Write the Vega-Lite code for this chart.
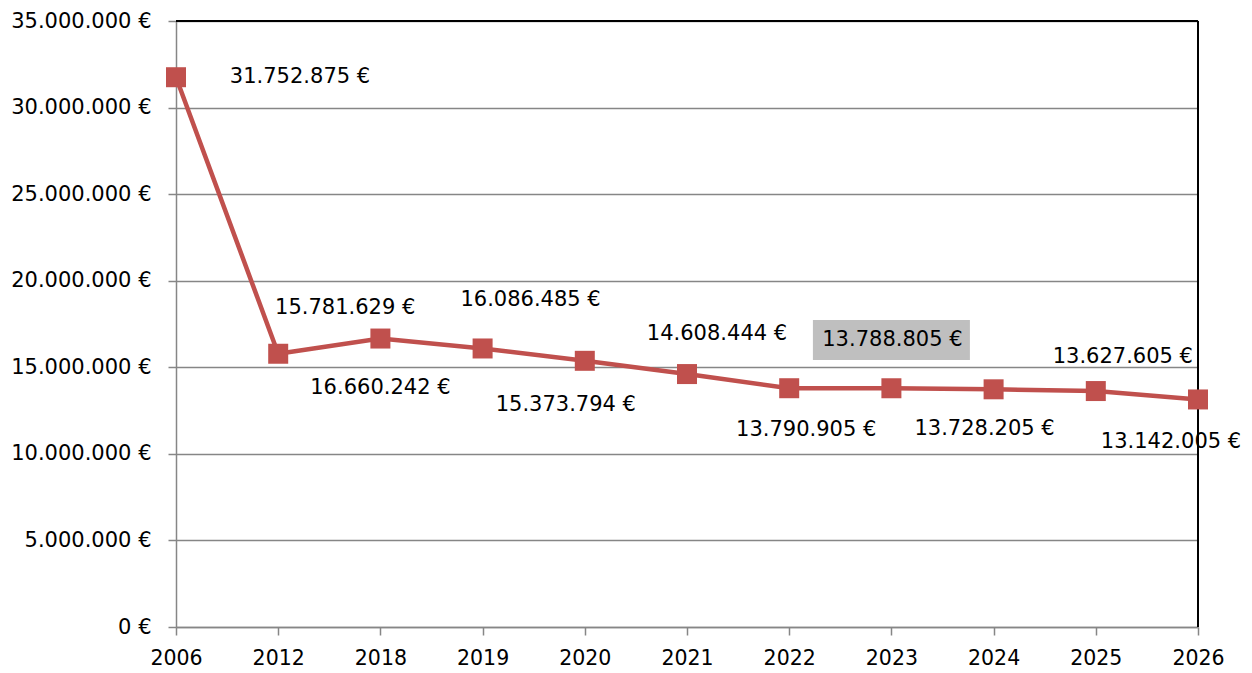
{
  "$schema": "https://vega.github.io/schema/vega-lite/v6.json",
  "width": 1022,
  "height": 606,
  "autosize": {"type": "none"},
  "padding": {"left": 176, "top": 21, "right": 54, "bottom": 46},
  "background": "white",
  "config": {
    "locale": {"number": {"decimal": ",", "thousands": ".", "grouping": [3], "currency": ["", " €"]}},
    "view": {"stroke": null},
    "font": "DejaVu Sans"
  },
  "data": {
    "values": [
      {"year": "2006", "value": 31752875},
      {"year": "2012", "value": 15781629},
      {"year": "2018", "value": 16660242},
      {"year": "2019", "value": 16086485},
      {"year": "2020", "value": 15373794},
      {"year": "2021", "value": 14608444},
      {"year": "2022", "value": 13790905},
      {"year": "2023", "value": 13788805},
      {"year": "2024", "value": 13728205},
      {"year": "2025", "value": 13627605},
      {"year": "2026", "value": 13142005}
    ]
  },
  "encoding": {
    "x": {
      "field": "year", "type": "ordinal", "title": null,
      "scale": {"type": "point", "padding": 0},
      "axis": {"labelAngle": 0, "labelFont": "DejaVu Sans", "labelFontSize": 20.5, "labelColor": "#000000",
        "domainColor": "#868686", "domainWidth": 1.5, "tickColor": "#868686", "tickWidth": 1.5, "tickSize": 8, "labelPadding": 13}
    },
    "y": {
      "field": "value", "type": "quantitative", "title": null,
      "scale": {"domain": [0, 35000000], "nice": false},
      "axis": {"values": [0, 5000000, 10000000, 15000000, 20000000, 25000000, 30000000, 35000000], "format": "$,.0f",
        "labelFont": "DejaVu Sans", "labelFontSize": 21, "labelColor": "#000000",
        "grid": true, "gridColor": "#868686", "gridWidth": 1.5,
        "domainColor": "#868686", "domainWidth": 1.5, "tickColor": "#868686", "tickWidth": 1.5, "tickSize": 8, "labelPadding": 17}
    }
  },
  "layer": [
    {"mark": {"type": "rule", "color": "#000000", "strokeWidth": 1.5}, "encoding": {"y": {"datum": 35000000}, "x": null}},
    {"mark": {"type": "rule", "color": "#000000", "strokeWidth": 1.5}, "encoding": {"x": {"datum": "2026"}, "y": null}},
    {"transform": [{"filter": "datum.year == '2023'"}],
      "mark": {"type": "bar", "color": "#bfbfbf", "size": 157},
      "encoding": {"y": {"datum": 17730000}, "y2": {"datum": 15420000}}},
    {"mark": {"type": "line", "color": "#c0504d", "strokeWidth": 4.5}},
    {"mark": {"type": "square", "color": "#c0504d", "size": 400, "opacity": 1, "filled": true}},
    {"transform": [{"filter": "datum.year == '2006'"}], "mark": {"type": "text", "fontSize": 21, "font": "DejaVu Sans", "color": "#000", "dx": 124, "dy": 0}, "encoding": {"text": {"field": "value", "type": "quantitative", "format": "$,.0f"}}},
    {"transform": [{"filter": "datum.year == '2012'"}], "mark": {"type": "text", "fontSize": 21, "font": "DejaVu Sans", "color": "#000", "dx": 67, "dy": -46}, "encoding": {"text": {"field": "value", "type": "quantitative", "format": "$,.0f"}}},
    {"transform": [{"filter": "datum.year == '2018'"}], "mark": {"type": "text", "fontSize": 21, "font": "DejaVu Sans", "color": "#000", "dx": 0, "dy": 49}, "encoding": {"text": {"field": "value", "type": "quantitative", "format": "$,.0f"}}},
    {"transform": [{"filter": "datum.year == '2019'"}], "mark": {"type": "text", "fontSize": 21, "font": "DejaVu Sans", "color": "#000", "dx": 48, "dy": -48}, "encoding": {"text": {"field": "value", "type": "quantitative", "format": "$,.0f"}}},
    {"transform": [{"filter": "datum.year == '2020'"}], "mark": {"type": "text", "fontSize": 21, "font": "DejaVu Sans", "color": "#000", "dx": -19, "dy": 44}, "encoding": {"text": {"field": "value", "type": "quantitative", "format": "$,.0f"}}},
    {"transform": [{"filter": "datum.year == '2021'"}], "mark": {"type": "text", "fontSize": 21, "font": "DejaVu Sans", "color": "#000", "dx": 30, "dy": -40}, "encoding": {"text": {"field": "value", "type": "quantitative", "format": "$,.0f"}}},
    {"transform": [{"filter": "datum.year == '2022'"}], "mark": {"type": "text", "fontSize": 21, "font": "DejaVu Sans", "color": "#000", "dx": 17, "dy": 42}, "encoding": {"text": {"field": "value", "type": "quantitative", "format": "$,.0f"}}},
    {"transform": [{"filter": "datum.year == '2023'"}], "mark": {"type": "text", "fontSize": 21, "font": "DejaVu Sans", "color": "#000", "dx": 1, "dy": -48}, "encoding": {"text": {"field": "value", "type": "quantitative", "format": "$,.0f"}}},
    {"transform": [{"filter": "datum.year == '2024'"}], "mark": {"type": "text", "fontSize": 21, "font": "DejaVu Sans", "color": "#000", "dx": -9, "dy": 40}, "encoding": {"text": {"field": "value", "type": "quantitative", "format": "$,.0f"}}},
    {"transform": [{"filter": "datum.year == '2025'"}], "mark": {"type": "text", "fontSize": 21, "font": "DejaVu Sans", "color": "#000", "dx": 27, "dy": -34}, "encoding": {"text": {"field": "value", "type": "quantitative", "format": "$,.0f"}}},
    {"transform": [{"filter": "datum.year == '2026'"}], "mark": {"type": "text", "fontSize": 21, "font": "DejaVu Sans", "color": "#000", "dx": -27, "dy": 43}, "encoding": {"text": {"field": "value", "type": "quantitative", "format": "$,.0f"}}}
  ]
}
